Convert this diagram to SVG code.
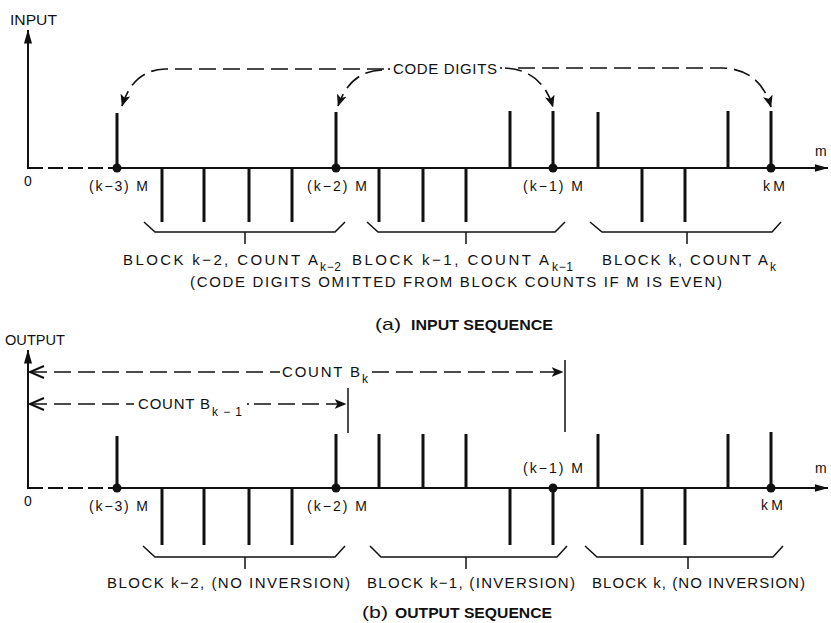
<svg xmlns="http://www.w3.org/2000/svg" width="831" height="623" viewBox="0 0 831 623">
<style>
text{font-family:"Liberation Sans",Arial,sans-serif;fill:#111;}
.lbl{font-size:14px;}
.big{font-size:15px;}
.sub{font-size:12px;}
.cap{font-size:14px;font-weight:bold;}
.paren{font-size:17px;}
.axis{stroke:#111;stroke-width:2;fill:none;}
.pulse{stroke:#111;stroke-width:3;fill:none;}
.dash0{stroke:#111;stroke-width:2;stroke-dasharray:15 5;fill:none;}
.dcurve{stroke:#111;stroke-width:1.6;stroke-dasharray:17 7;fill:none;}
.brace{stroke:#111;stroke-width:1.5;fill:none;}
.thin{stroke:#111;stroke-width:1.5;fill:none;}
.dot{fill:#111;}
</style>
<defs>
<marker id="ah" viewBox="0 0 12 10" refX="11.5" refY="5" markerWidth="12" markerHeight="10" markerUnits="userSpaceOnUse" orient="auto"><path d="M0,0 L12,5 L0,10 L3,5 z" fill="#111"/></marker>
<marker id="ax" viewBox="0 0 14 8" refX="13.5" refY="4" markerWidth="14" markerHeight="8" markerUnits="userSpaceOnUse" orient="auto"><path d="M0,0 L14,4 L0,8 z" fill="#111"/></marker>
</defs>

<!-- ===== (a) INPUT SEQUENCE ===== -->
<g id="input-axes">
<path class="axis" d="M28,169 L28,30" marker-end="url(#ax)"/>
<path class="dash0" d="M28,168 L116,168"/>
<path class="axis" d="M116,168 L828,168" marker-end="url(#ax)"/>
<text class="lbl" x="10" y="25" textLength="47" lengthAdjust="spacingAndGlyphs">INPUT</text>
<text class="lbl" x="24" y="186">0</text>
<text class="lbl" x="815" y="156">m</text>
</g>
<g id="input-pulses">
<path class="pulse" d="M117,168V113 M336,168V112 M510,168V111 M553,168V111 M598,168V112 M728,168V111 M771,168V111"/>
<path class="pulse" d="M162,168V222 M204,168V222 M249,168V222 M292,168V222 M379,168V222 M423,168V222 M466,168V222 M642,168V222 M685,168V222"/>
<circle class="dot" cx="117" cy="168" r="4.5"/>
<circle class="dot" cx="336" cy="168" r="4.5"/>
<circle class="dot" cx="553" cy="168" r="4.5"/>
<circle class="dot" cx="771" cy="168" r="4.5"/>
</g>
<g id="input-marks">
<text class="lbl" x="89" y="191" textLength="59" lengthAdjust="spacing">(k−3) M</text>
<text class="lbl" x="307" y="191" textLength="60" lengthAdjust="spacing">(k−2) M</text>
<text class="lbl" x="523" y="191" textLength="60" lengthAdjust="spacing">(k−1) M</text>
<text class="lbl" x="763" y="191" textLength="22" lengthAdjust="spacing">kM</text>
</g>
<g id="code-digits">
<text class="big" x="393" y="74" textLength="104" lengthAdjust="spacing">CODE DIGITS</text>
<circle class="dot" cx="389" cy="69" r="1.1"/>
<circle class="dot" cx="501" cy="68" r="1.1"/>
</g>
<g id="input-braces">
<path class="brace" d="M144,222 L155,232 L335,232 L345,222 M245,232 V244"/>
<path class="brace" d="M367,222 L378,232 L555,232 L565,222 M466,232 V244"/>
<path class="brace" d="M590,222 L602,232 L772,232 L781,222 M687,232 V244"/>
</g>
<g id="input-block-labels">
<text class="big" x="123" y="265" textLength="195" lengthAdjust="spacing">BLOCK k−2, COUNT A</text>
<text class="sub" x="320" y="271" textLength="21" lengthAdjust="spacing">k − 2</text>
<text class="big" x="352" y="265" textLength="197" lengthAdjust="spacing">BLOCK k−1, COUNT A</text>
<text class="sub" x="552" y="271" textLength="21" lengthAdjust="spacing">k − 1</text>
<text class="big" x="602" y="265" textLength="166" lengthAdjust="spacing">BLOCK k, COUNT A</text>
<text class="sub" x="770" y="271">k</text>
<text class="big" x="190" y="287" textLength="532" lengthAdjust="spacing">(CODE DIGITS OMITTED FROM BLOCK COUNTS IF M IS EVEN)</text>
</g>
<g id="caption-a">
<text class="paren" x="375" y="330" textLength="26" lengthAdjust="spacingAndGlyphs">(a)</text>
<text class="cap" x="411" y="330" textLength="142" lengthAdjust="spacingAndGlyphs">INPUT SEQUENCE</text>
</g>

<!-- ===== (b) OUTPUT SEQUENCE ===== -->
<g id="output-axes">
<path class="axis" d="M28,489 L28,350" marker-end="url(#ax)"/>
<path class="dash0" d="M28,488 L116,488"/>
<path class="axis" d="M116,488 L828,488" marker-end="url(#ax)"/>
<text class="lbl" x="5" y="345" textLength="60" lengthAdjust="spacingAndGlyphs">OUTPUT</text>
<text class="lbl" x="24" y="506">0</text>
<text class="lbl" x="815" y="473">m</text>
</g>
<g id="output-pulses">
<path class="pulse" d="M117,488V436 M336,488V434 M379,488V434 M423,488V434 M466,488V434 M598,488V434 M728,488V434 M771,488V432"/>
<path class="pulse" d="M162,488V545 M204,488V545 M249,488V545 M292,488V545 M510,488V545 M553,488V545 M642,488V545 M685,488V545"/>
<circle class="dot" cx="117" cy="488" r="4.5"/>
<circle class="dot" cx="336" cy="488" r="4.5"/>
<circle class="dot" cx="553" cy="488" r="4.5"/>
<circle class="dot" cx="771" cy="488" r="4.5"/>
</g>
<g id="output-marks">
<text class="lbl" x="89" y="511" textLength="59" lengthAdjust="spacing">(k−3) M</text>
<text class="lbl" x="307" y="511" textLength="60" lengthAdjust="spacing">(k−2) M</text>
<text class="lbl" x="523" y="473" textLength="60" lengthAdjust="spacing">(k−1) M</text>
<text class="lbl" x="761" y="510" textLength="22" lengthAdjust="spacing">kM</text>
</g>
<g id="count-bk">
<text class="big" x="282" y="377" textLength="78" lengthAdjust="spacing">COUNT B</text>
<text class="sub" x="362" y="383">k</text>
<path class="thin" d="M565,360 V432"/>
</g>
<g id="count-bk1">
<text class="big" x="138" y="409" textLength="72" lengthAdjust="spacing">COUNT B</text>
<text class="sub" x="212" y="416" textLength="30" lengthAdjust="spacing">k − 1</text>
<circle class="dot" cx="248" cy="404" r="1.1"/>
<path class="thin" d="M348,388 V433"/>
</g>
<g id="output-braces">
<path class="brace" d="M143,546 L155,557 L335,557 L345,546 M245,557 V569"/>
<path class="brace" d="M370,546 L381,557 L557,557 L567,546 M466,557 V569"/>
<path class="brace" d="M585,546 L597,557 L773,557 L783,546 M688,557 V569"/>
</g>
<g id="output-block-labels">
<text class="big" x="107" y="588" textLength="243" lengthAdjust="spacing">BLOCK k−2, (NO INVERSION)</text>
<text class="big" x="367" y="588" textLength="208" lengthAdjust="spacing">BLOCK k−1, (INVERSION)</text>
<text class="big" x="592" y="588" textLength="213" lengthAdjust="spacing">BLOCK k, (NO INVERSION)</text>
</g>
<g id="caption-b">
<text class="paren" x="362" y="618" textLength="26" lengthAdjust="spacingAndGlyphs">(b)</text>
<text class="cap" x="395" y="618" textLength="157" lengthAdjust="spacingAndGlyphs">OUTPUT SEQUENCE</text>
</g>

<!-- ===== connectors ===== -->
<g id="connectors">
<path class="dcurve" d="M384,69 L165,69 Q133,70 122,106" marker-end="url(#ah)"/>
<path class="dcurve" d="M382,70 Q350,71 338,106" marker-end="url(#ah)"/>
<path class="dcurve" d="M505,68 Q542,70 553,107" marker-end="url(#ah)"/>
<path class="dcurve" d="M518,68 L722,68 Q760,69 771,107" marker-end="url(#ah)"/>
<path class="dcurve" d="M30,372 L280,372"/>
<path class="dcurve" d="M372,372 L563,372" marker-end="url(#ah)"/>
<path class="dcurve" d="M30,404 L134,404"/>
<path class="dcurve" d="M254,404 L346,404" marker-end="url(#ah)"/>
<path class="thin" style="stroke-width:2" d="M44,366 L30,372 L44,378 M44,398 L30,404 L44,410"/>
</g>
</svg>
